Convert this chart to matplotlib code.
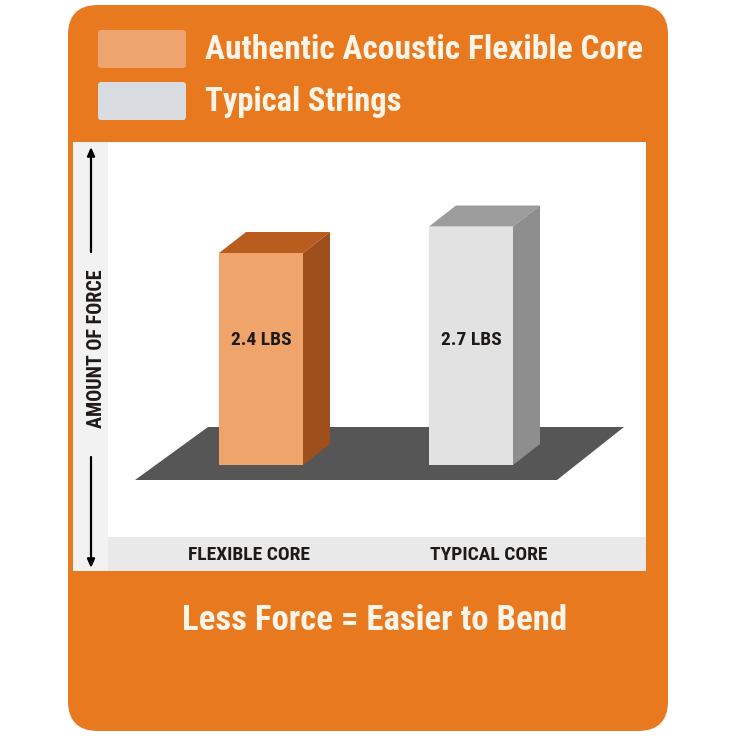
import matplotlib
matplotlib.use("Agg")
import matplotlib.pyplot as plt
from matplotlib.patches import FancyBboxPatch, Rectangle, Polygon
from matplotlib import font_manager as fm

# ---------------- data ----------------
categories = ["FLEXIBLE CORE", "TYPICAL CORE"]
values = [2.4, 2.7]
value_labels = ["2.4 LBS", "2.7 LBS"]
legend_labels = ["Authentic Acoustic Flexible Core", "Typical Strings"]
y_axis_label = "AMOUNT OF FORCE"
footer = "Less Force = Easier to Bend"

# ---------------- font choice ----------------
names = {f.name for f in fm.fontManager.ttflist}
FAM = "DejaVu Sans"
for cand in ["Roboto Condensed", "Liberation Sans Narrow", "Open Sans Condensed", "DejaVu Sans Condensed"]:
    if cand in names:
        FAM = cand
        break
STRETCH = "normal"
if FAM == "DejaVu Sans":
    if any(f.name == "DejaVu Sans" and f.stretch == "condensed" for f in fm.fontManager.ttflist):
        STRETCH = "condensed"

# ---------------- colours ----------------
ORANGE_BG = "#E8791F"
CREAM = "#FFF4E8"
SW_ORANGE = "#EEA46E"
SW_GRAY = "#D9DCE0"
front_cols = ["#EFA46C", "#E2E2E2"]
top_cols = ["#B95D1F", "#9C9C9C"]
side_cols = ["#9E4F1C", "#8E8E8E"]
FLOOR = "#565656"
DARK = "#1E1A18"

W = H = 736
fig = plt.figure(figsize=(W / 100, H / 100), dpi=100)
fig.patch.set_facecolor("white")

bg = fig.add_axes([0, 0, 1, 1])
bg.set_xlim(0, W)
bg.set_ylim(H, 0)
bg.axis("off")

# orange rounded card
bg.add_patch(FancyBboxPatch((68, 5), 600, 726, boxstyle="round,pad=0,rounding_size=30",
                            facecolor=ORANGE_BG, edgecolor="none"))

# legend swatches + text
sw_cols = [SW_ORANGE, SW_GRAY]
sw_y = [30, 82]
leg_sizes = [24, 23.5]
for lab, c, y, fs in zip(legend_labels, sw_cols, sw_y, leg_sizes):
    bg.add_patch(FancyBboxPatch((98, y), 88, 38, boxstyle="round,pad=0,rounding_size=3",
                                facecolor=c, edgecolor="none"))
    bg.text(205, y + 20, lab, color=CREAM, fontsize=fs, fontweight="bold",
            family=FAM, fontstretch=STRETCH, ha="left", va="center")

# white chart panel
PX0, PX1, PY0, PY1 = 73, 646, 142, 571
bg.add_patch(Rectangle((PX0, PY0), PX1 - PX0, PY1 - PY0, facecolor="white", edgecolor="none"))
bg.add_patch(Rectangle((PX0, PY0), 108 - PX0, PY1 - PY0, facecolor="#F2F2F2", edgecolor="none"))
bg.add_patch(Rectangle((108, 537), PX1 - 108, PY1 - 537, facecolor="#E9E9E9", edgecolor="none"))

# y axis arrows and label
arr = dict(arrowstyle="-|>,head_length=0.5,head_width=0.22", color="black", lw=1.6,
           shrinkA=0, shrinkB=0)
bg.annotate("", xy=(91, 147), xytext=(91, 252), arrowprops=arr)
bg.annotate("", xy=(91, 568), xytext=(91, 457), arrowprops=arr)
bg.text(97, 349, y_axis_label, rotation=90, color=DARK, fontsize=14.5, fontweight="bold",
        family=FAM, fontstretch=STRETCH, ha="center", va="center")

# footer text
bg.text(375, 620, footer, color=CREAM, fontsize=25, fontweight="bold",
        family=FAM, fontstretch=STRETCH, ha="center", va="center")

# ---------------- bar axes (data coordinates) ----------------
BASE_PX = 465.0          # pixel row of zero
PX_PER_UNIT_Y = 88.33
CENTER0_PX = 261.0
PX_PER_UNIT_X = 210.0
ax = fig.add_axes([PX0 / W, (H - 537) / H, (PX1 - PX0) / W, (537 - PY0) / H])
ax.set_xlim((PX0 - CENTER0_PX) / PX_PER_UNIT_X, (PX1 - CENTER0_PX) / PX_PER_UNIT_X)
ax.set_ylim(-(537 - BASE_PX) / PX_PER_UNIT_Y, (BASE_PX - PY0) / PX_PER_UNIT_Y)
ax.axis("off")
ax.patch.set_alpha(0)

def ux(px):
    return px / PX_PER_UNIT_X

def uy(px):
    return px / PX_PER_UNIT_Y

# floor (decoration)
floor = [(ux(135 - CENTER0_PX), -uy(480 - BASE_PX)), (ux(557 - CENTER0_PX), -uy(480 - BASE_PX)),
         (ux(624 - CENTER0_PX), uy(BASE_PX - 427)), (ux(208 - CENTER0_PX), uy(BASE_PX - 427))]
ax.add_patch(Polygon(floor, closed=True, facecolor=FLOOR, edgecolor="none", zorder=1))

xs = list(range(len(values)))
bw = ux(84)
dx, dy = ux(27), uy(21)
bars = ax.bar(xs, values, width=bw, color=front_cols, edgecolor="none", zorder=3)
for b, v, tc, sc, lab in zip(bars, values, top_cols, side_cols, value_labels):
    x0 = b.get_x()
    x1 = x0 + b.get_width()
    # top face
    ax.add_patch(Polygon([(x0, v), (x1, v), (x1 + dx, v + dy), (x0 + dx, v + dy)],
                         closed=True, facecolor=tc, edgecolor="none", zorder=2))
    # side face
    ax.add_patch(Polygon([(x1, 0), (x1, v), (x1 + dx, v + dy), (x1 + dx, dy)],
                         closed=True, facecolor=sc, edgecolor="none", zorder=2))
    ax.text(b.get_x() + b.get_width() / 2, uy(BASE_PX - 340), lab, color=DARK, fontsize=14,
            fontweight="bold", family=FAM, fontstretch=STRETCH, ha="center", va="center", zorder=4)

# category labels
cat_centers = [249, 489]
for lab, cx in zip(categories, cat_centers):
    bg.text(cx, 555, lab, color=DARK, fontsize=14, fontweight="bold",
            family=FAM, fontstretch=STRETCH, ha="center", va="center", zorder=5)

fig.savefig("out.png", dpi=100, facecolor="white")
